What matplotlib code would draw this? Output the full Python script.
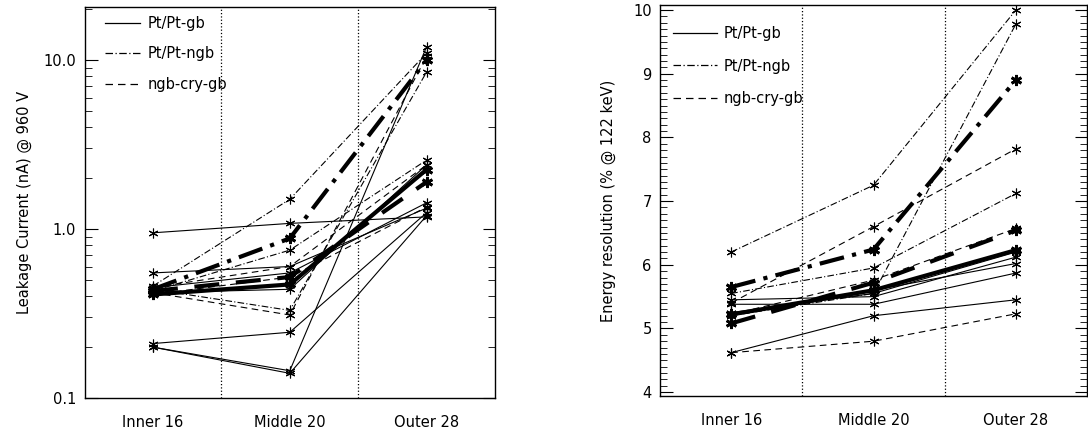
import matplotlib
matplotlib.use("Agg")
import matplotlib.pyplot as plt
from matplotlib.lines import Line2D
from matplotlib.ticker import FixedLocator, NullFormatter, LogLocator

plt.rcParams['font.family'] = ['DejaVu Sans']

positions = ['Inner 16', 'Middle 20', 'Outer 28']
groups = ['Pt/Pt-gb', 'Pt/Pt-ngb', 'ngb-cry-gb']

# leakage current (nA) per detector, one list per detector, grouped by type
leak_gb = [[0.95, 1.08, 1.18],
           [0.21, 0.245, 1.25],
           [0.20, 0.14, 1.2],
           [0.20, 0.145, 12.0],
           [0.55, 0.60, 1.33],
           [0.45, 0.55, 1.43],
           [0.42, 0.44, 2.4]]
leak_ngb = [[0.46, 1.5, 11.0],
            [0.44, 0.33, 8.5],
            [0.43, 0.75, 2.56]]
leak_cry = [[0.45, 0.60, 2.4],
            [0.42, 0.31, 10.5],
            [0.41, 0.52, 1.35]]
leak_avg_gb = [0.41, 0.47, 2.25]
leak_avg_ngb = [0.44, 0.88, 10.0]
leak_avg_cry = [0.43, 0.52, 1.9]

# energy resolution (% @ 122 keV)
res_gb = [[4.62, 5.20, 5.45],
          [5.45, 5.50, 6.12],
          [5.38, 5.38, 5.87],
          [5.20, 5.60, 6.02],
          [5.25, 5.55, 6.20]]
res_ngb = [[6.20, 7.25, 10.0],
           [5.55, 5.95, 7.12],
           [5.20, 5.55, 9.78]]
res_cry = [[5.40, 6.60, 7.82],
           [4.62, 4.80, 5.23],
           [5.22, 5.76, 6.57]]
res_avg_gb = [5.22, 5.60, 6.23]
res_avg_ngb = [5.65, 6.24, 8.90]
res_avg_cry = [5.08, 5.72, 6.54]

styles = {'gb': '-', 'ngb': (0, (6, 2, 1, 2)), 'cry': (0, (6, 4))}
star = (6, 2, 0)
x = list(range(len(positions)))

fig = plt.figure(figsize=(10.88, 4.33), dpi=100)
ax1 = fig.add_axes([0.0777, 0.0808, 0.3773, 0.903])
ax2 = fig.add_axes([0.6066, 0.0855, 0.3925, 0.903])


def draw(ax, thin, avgs, leg_xy, hlen, spacing):
    for key, rows in thin.items():
        for r in rows:
            ax.plot(x, r, color='k', lw=0.8, ls=styles[key],
                    marker=star, ms=7, mew=0.8)
    for key, r in avgs.items():
        ax.plot(x, r, color='k', lw=3.0, ls=styles[key],
                marker=star, ms=8, mew=2.0)
    for xv in (0.5, 1.5):
        ax.axvline(xv, color='k', ls=':', lw=0.9)
    ax.set_xlim(-0.5, 2.5)
    ax.set_xticks(x)
    ax.set_xticklabels(positions)
    ax.tick_params(axis='x', length=0, pad=12, labelsize=10.5)
    ax.tick_params(axis='y', which='both', direction='in', right=True,
                   labelsize=10.5, pad=6)
    ax.tick_params(axis='y', which='major', length=9)
    ax.tick_params(axis='y', which='minor', length=5)
    for s in ax.spines.values():
        s.set_linewidth(1.0)
    handles = [Line2D([], [], color='k', lw=0.9, ls=styles[k])
               for k in ('gb', 'ngb', 'cry')]
    ax.legend(handles, groups, loc='upper left', bbox_to_anchor=leg_xy,
              frameon=False, fontsize=10.5, handlelength=hlen,
              handletextpad=0.5, labelspacing=spacing,
              borderaxespad=0, borderpad=0)


draw(ax1, {'gb': leak_gb, 'ngb': leak_ngb, 'cry': leak_cry},
     {'gb': leak_avg_gb, 'ngb': leak_avg_ngb, 'cry': leak_avg_cry},
     (0.05, 0.977), 2.4, 1.05)
ax1.set_yscale('log')
ax1.set_ylim(0.1, 20.6)
ax1.yaxis.set_major_locator(FixedLocator([0.1, 1.0, 10.0]))
ax1.set_yticklabels(['0.1', '1.0', '10.0'])
ax1.yaxis.set_minor_locator(LogLocator(base=10, subs=range(2, 10)))
ax1.yaxis.set_minor_formatter(NullFormatter())
ax1.set_ylabel('Leakage Current (nA) @ 960 V', fontsize=10.5, labelpad=8)

draw(ax2, {'gb': res_gb, 'ngb': res_ngb, 'cry': res_cry},
     {'gb': res_avg_gb, 'ngb': res_avg_ngb, 'cry': res_avg_cry},
     (0.03, 0.946), 3.0, 1.2)
ax2.set_ylim(3.94, 10.08)
ax2.set_yticks(range(4, 11))
ax2.yaxis.set_minor_locator(FixedLocator([v / 10 for v in range(40, 101)]))
ax2.set_ylabel('Energy resolution (% @ 122 keV)', fontsize=10.5, labelpad=12)

fig.savefig('out.png', dpi=100)
